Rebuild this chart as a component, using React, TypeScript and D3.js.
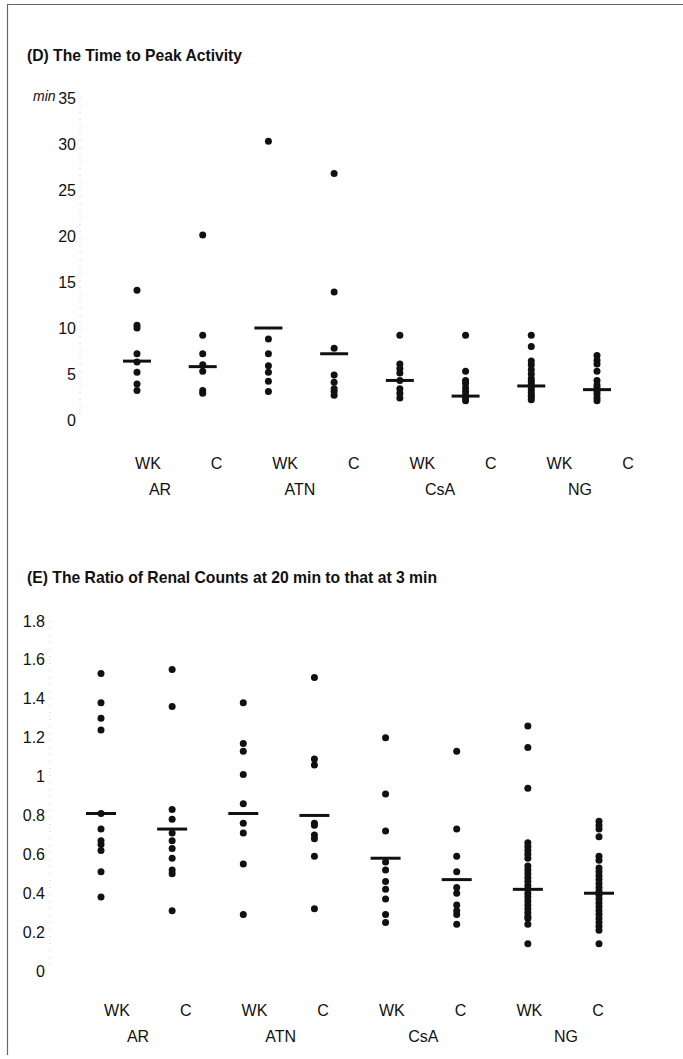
import React, { useEffect, useRef } from 'react';
import * as d3 from 'd3';

const groups = ['AR', 'ATN', 'CsA', 'NG'];
const subgroups = ['WK', 'C'];

// (D) time to peak activity, min
const peakTicks = [0, 5, 10, 15, 20, 25, 30, 35];
const peakAR_WK = [14.1, 10.3, 10.0, 7.2, 6.3, 5.2, 3.9, 3.2];
const peakAR_C = [20.1, 9.2, 7.2, 6.0, 5.3, 3.2, 2.9];
const peakATN_WK = [30.3, 8.8, 7.2, 5.9, 5.2, 4.2, 3.1];
const peakATN_C = [26.8, 13.9, 7.8, 4.9, 4.1, 3.4, 3.1, 2.7];
const peakCsA_WK = [9.2, 6.1, 5.6, 5.1, 4.3, 3.4, 2.9, 2.4];
const peakCsA_C = [9.2, 5.3, 4.3, 4.0, 3.5, 3.1, 2.7, 2.4, 2.1];
const peakNG_WK = [9.2, 8.0, 6.4, 6.0, 5.5, 5.0, 4.5, 4.2, 3.9, 3.6, 3.3, 3.0, 2.7, 2.5, 2.2];
const peakNG_C = [7.0, 6.5, 6.1, 5.3, 4.3, 3.8, 3.5, 3.1, 2.8, 2.4, 2.1];
const peakMeans = [6.4, 5.8, 10.0, 7.2, 4.3, 2.6, 3.7, 3.3];

// (E) ratio of renal counts 20 min / 3 min
const ratioTicks = [0, 0.2, 0.4, 0.6, 0.8, 1, 1.2, 1.4, 1.6, 1.8];
const ratioAR_WK = [1.53, 1.38, 1.30, 1.24, 0.81, 0.73, 0.67, 0.65, 0.62, 0.51, 0.38];
const ratioAR_C = [1.55, 1.36, 0.83, 0.78, 0.71, 0.67, 0.63, 0.58, 0.52, 0.50, 0.31];
const ratioATN_WK = [1.38, 1.17, 1.13, 1.01, 0.86, 0.76, 0.71, 0.55, 0.29];
const ratioATN_C = [1.51, 1.09, 1.06, 0.76, 0.75, 0.70, 0.68, 0.59, 0.32];
const ratioCsA_WK = [1.20, 0.91, 0.72, 0.56, 0.52, 0.46, 0.42, 0.37, 0.29, 0.25];
const ratioCsA_C = [1.13, 0.73, 0.59, 0.51, 0.43, 0.40, 0.34, 0.31, 0.29, 0.24];
const ratioNG_WK = [1.26, 1.15, 0.94, 0.66, 0.64, 0.62, 0.60, 0.58, 0.54, 0.52, 0.50, 0.48, 0.46, 0.44,
  0.42, 0.40, 0.38, 0.36, 0.34, 0.32, 0.30, 0.28, 0.27, 0.24, 0.14];
const ratioNG_C = [0.77, 0.75, 0.73, 0.69, 0.59, 0.57, 0.53, 0.51, 0.49, 0.47, 0.45, 0.43, 0.41, 0.39,
  0.37, 0.35, 0.33, 0.31, 0.29, 0.27, 0.25, 0.23, 0.21, 0.14];
const ratioMeans = [0.81, 0.73, 0.81, 0.80, 0.58, 0.47, 0.42, 0.40];

const W = 683;
const H = 1059;
const font = '"Liberation Sans", Arial, sans-serif';
const ink = '#111';

const columns = groups.flatMap(g => subgroups.map(s => g + ' ' + s));

function drawPanel(svg, p) {
  const y = d3.scaleLinear().domain([0, d3.max(p.ticks)]).range([p.y0, p.y1]);
  const x = d3.scalePoint().domain(columns).range(p.dotRange);
  const xSub = d3.scalePoint().domain(columns).range(p.subRange);
  const xGroup = d3.scalePoint().domain(groups).range(p.groupRange);

  const g = svg.append('g');

  // title
  g.append('text')
    .attr('x', 27).attr('y', p.titleY)
    .style('font-family', font).style('font-weight', 'bold')
    .style('font-size', '17px').attr('fill', ink)
    .attr('textLength', p.titleLen).attr('lengthAdjust', 'spacingAndGlyphs')
    .text(p.title);

  // faint dotted axis from the scan
  g.append('line')
    .attr('x1', p.axisX).attr('x2', p.axisX)
    .attr('y1', y(d3.max(p.ticks))).attr('y2', y(0))
    .attr('stroke', '#ccc').attr('stroke-width', 1)
    .attr('stroke-dasharray', '1,6');

  // tick labels
  g.selectAll('text.tick')
    .data(p.ticks)
    .enter().append('text')
    .attr('class', 'tick')
    .attr('x', p.labelX)
    .attr('y', d => y(d))
    .attr('dy', '0.35em')
    .attr('text-anchor', 'end')
    .style('font-family', font).style('font-size', '16px')
    .attr('fill', ink)
    .text(d => String(d));

  if (p.unit) {
    g.append('text')
      .attr('x', 33).attr('y', y(d3.max(p.ticks)))
      .attr('dy', '0.2em')
      .style('font-family', font).style('font-size', '14px')
      .style('font-style', 'italic').attr('fill', ink)
      .text(p.unit);
  }

  // dots
  p.series.forEach((vals, i) => {
    g.selectAll('circle.c' + i)
      .data(vals)
      .enter().append('circle')
      .attr('class', 'c' + i)
      .attr('cx', x(columns[i]))
      .attr('cy', d => y(d))
      .attr('r', 3.5)
      .attr('fill', ink);
  });

  // mean bars
  g.selectAll('line.mean')
    .data(p.means)
    .enter().append('line')
    .attr('class', 'mean')
    .attr('x1', (d, i) => x(columns[i]) - p.barHalf)
    .attr('x2', (d, i) => x(columns[i]) + p.barHalf)
    .attr('y1', d => y(d)).attr('y2', d => y(d))
    .attr('stroke', ink).attr('stroke-width', 3);

  // sub labels
  g.selectAll('text.sub')
    .data(columns)
    .enter().append('text')
    .attr('class', 'sub')
    .attr('x', d => xSub(d))
    .attr('y', p.subY)
    .attr('text-anchor', 'middle')
    .style('font-family', font).style('font-size', '16px')
    .attr('fill', ink)
    .text(d => d.split(' ')[1]);

  // group labels
  g.selectAll('text.grp')
    .data(groups)
    .enter().append('text')
    .attr('class', 'grp')
    .attr('x', d => xGroup(d))
    .attr('y', p.groupY)
    .attr('text-anchor', 'middle')
    .style('font-family', font).style('font-size', '16px')
    .attr('fill', ink)
    .text(d => d);
}

export default function App() {
  const ref = useRef(null);

  useEffect(() => {
    const svg = d3.select(ref.current);
    svg.selectAll('*').remove();

    svg.append('rect').attr('width', W).attr('height', H).attr('fill', '#fff');

    // scan frame
    svg.append('path')
      .attr('d', `M7.5,${H - 4} L7.5,4.5 L${W},4.5`)
      .attr('fill', 'none').attr('stroke', '#666').attr('stroke-width', 1.2);

    drawPanel(svg, {
      title: '(D) The Time to Peak Activity',
      titleY: 61, titleLen: 215,
      ticks: peakTicks, unit: 'min',
      y0: 420, y1: 98,
      labelX: 76, axisX: 80,
      dotRange: [137, 597], subRange: [148, 628], groupRange: [160, 580],
      series: [peakAR_WK, peakAR_C, peakATN_WK, peakATN_C, peakCsA_WK, peakCsA_C, peakNG_WK, peakNG_C],
      means: peakMeans, barHalf: 14,
      subY: 469, groupY: 495
    });

    drawPanel(svg, {
      title: '(E) The Ratio of Renal Counts at 20 min to that at 3 min',
      titleY: 583, titleLen: 410,
      ticks: ratioTicks, unit: null,
      y0: 971, y1: 621,
      labelX: 45, axisX: 50,
      dotRange: [101, 599], subRange: [117, 598], groupRange: [138, 566],
      series: [ratioAR_WK, ratioAR_C, ratioATN_WK, ratioATN_C, ratioCsA_WK, ratioCsA_C, ratioNG_WK, ratioNG_C],
      means: ratioMeans, barHalf: 15,
      subY: 1016, groupY: 1042
    });
  }, []);

  return (
    <svg ref={ref} width={W} height={H}
      style={{ position: 'absolute', left: 0, top: 0, display: 'block' }} />
  );
}
